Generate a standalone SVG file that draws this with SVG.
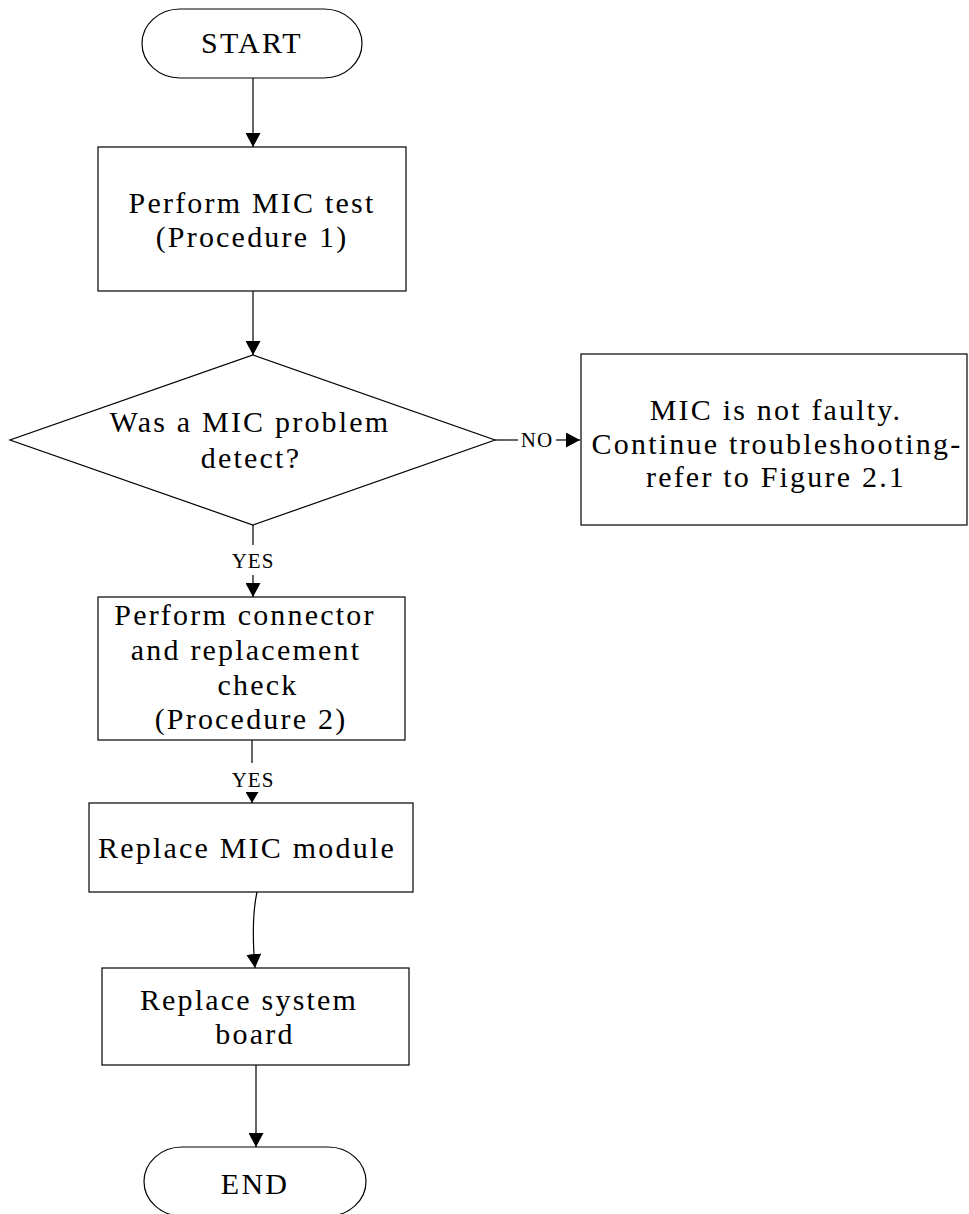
<svg xmlns="http://www.w3.org/2000/svg" width="969" height="1214" viewBox="0 0 969 1214">
<defs>
<style>
.shape{fill:#fff;stroke:#000;stroke-width:1.2}
.conn{fill:none;stroke:#000;stroke-width:1.2}
.t{font-family:"Liberation Serif","Times New Roman",serif;font-size:30px;letter-spacing:2.2px;fill:#000;text-anchor:middle}
.lbl{font-family:"Liberation Serif","Times New Roman",serif;font-size:21px;letter-spacing:1px;fill:#000;text-anchor:middle}
</style>
<marker id="arrow" markerUnits="userSpaceOnUse" markerWidth="14" markerHeight="15" refX="14" refY="7.5" orient="auto">
<path d="M0,0 L14,7.5 L0,15 z" fill="#000"/>
</marker>
<marker id="arrowSm" markerUnits="userSpaceOnUse" markerWidth="11" markerHeight="13" refX="11" refY="6.5" orient="auto">
<path d="M0,0 L11,6.5 L0,13 z" fill="#000"/>
</marker>
</defs>
<rect width="969" height="1214" fill="#fff"/>

<g id="connectors">
<line class="conn" x1="253" y1="78" x2="253" y2="147" marker-end="url(#arrow)"/>
<line class="conn" x1="253" y1="291" x2="253" y2="355" marker-end="url(#arrow)"/>
<line class="conn" x1="495" y1="440" x2="518" y2="440"/>
<text class="lbl" x="537" y="447">NO</text>
<line class="conn" x1="556" y1="440" x2="580" y2="440" marker-end="url(#arrow)"/>
<line class="conn" x1="253" y1="525" x2="253" y2="545"/>
<text class="lbl" x="253" y="568">YES</text>
<line class="conn" x1="253" y1="575" x2="253" y2="597" marker-end="url(#arrow)"/>
<line class="conn" x1="252" y1="740" x2="252" y2="763"/>
<text class="lbl" x="253" y="787">YES</text>
<line class="conn" x1="252" y1="792" x2="252" y2="803" marker-end="url(#arrowSm)"/>
<path class="conn" d="M257 892 C252 915 253 945 255 968" marker-end="url(#arrow)"/>
<line class="conn" x1="256" y1="1065" x2="256" y2="1147" marker-end="url(#arrow)"/>
</g>

<g id="start">
<rect class="shape" x="142" y="9" width="220" height="69" rx="38" ry="34.5"/>
<text class="t" x="252" y="53">START</text>
</g>

<g id="perform-mic-test">
<rect class="shape" x="98" y="147" width="308" height="144"/>
<text class="t" x="252" y="213">Perform MIC test</text>
<text class="t" x="252" y="247">(Procedure 1)</text>
</g>

<g id="decision">
<polygon class="shape" points="253,355 495,440 253,525 10,440"/>
<text class="t" x="250" y="432">Was a MIC problem</text>
<text class="t" x="251" y="468">detect?</text>
</g>

<g id="not-faulty">
<rect class="shape" x="581" y="354" width="386" height="171"/>
<text class="t" x="776" y="420">MIC is not faulty.</text>
<text class="t" x="777" y="453.5">Continue troubleshooting-</text>
<text class="t" x="776" y="487">refer to Figure 2.1</text>
</g>

<g id="connector-check">
<rect class="shape" x="98" y="597" width="307" height="143"/>
<text class="t" x="245" y="625">Perform connector</text>
<text class="t" x="246" y="660">and replacement</text>
<text class="t" x="258" y="695">check</text>
<text class="t" x="251" y="729">(Procedure 2)</text>
</g>

<g id="replace-mic">
<rect class="shape" x="89" y="803" width="324" height="89"/>
<text class="t" x="247" y="858">Replace MIC module</text>
</g>

<g id="replace-board">
<rect class="shape" x="102" y="968" width="307" height="97"/>
<text class="t" x="249" y="1010">Replace system</text>
<text class="t" x="255" y="1044">board</text>
</g>

<g id="end">
<rect class="shape" x="144" y="1147" width="222" height="69" rx="38" ry="34.5"/>
<text class="t" x="255" y="1194">END</text>
</g>
</svg>
